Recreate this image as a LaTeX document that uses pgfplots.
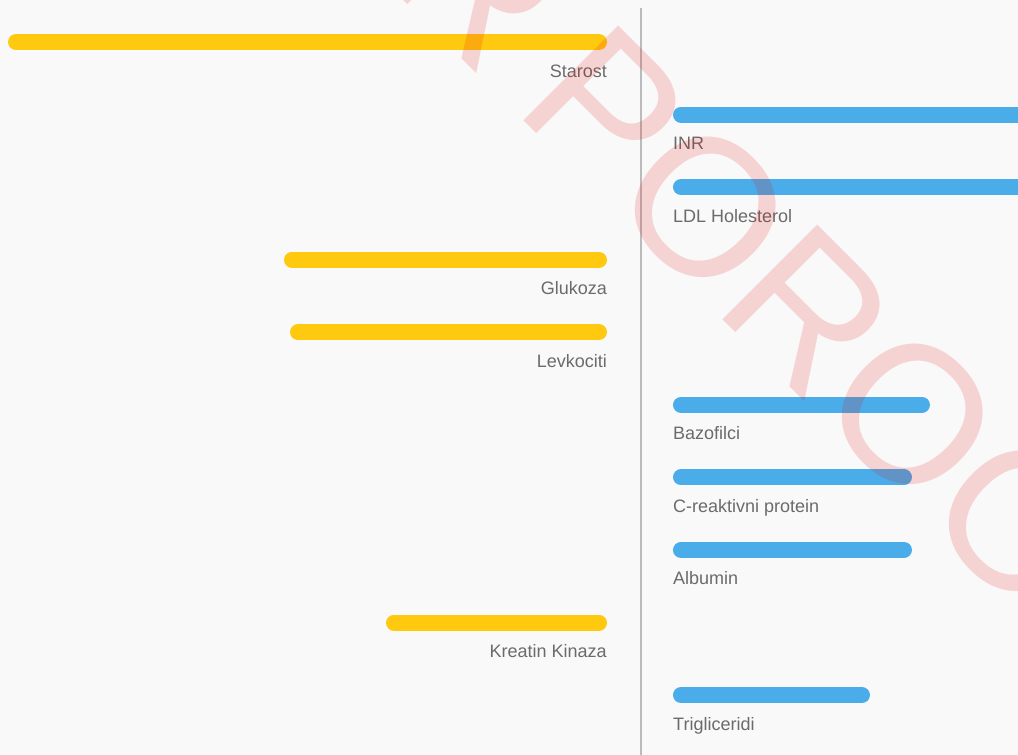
\documentclass[border=0pt]{standalone}
\usepackage{pgfplots}
\pgfplotsset{compat=1.18}
\usepackage{fontspec}
\setmainfont{Liberation Sans}
\definecolor{bgc}{HTML}{F9F9F9}
\definecolor{yel}{HTML}{FFC910}
\definecolor{blu}{HTML}{4AADEA}
\definecolor{lbl}{HTML}{6B6B6B}
\definecolor{axl}{HTML}{BBBBBB}
\definecolor{wmc}{HTML}{E60000}
\tikzset{lab/.style={font=\fontsize{18bp}{21bp}\selectfont, text=lbl, inner sep=0pt, yshift=-35bp}}
\begin{document}
\begin{tikzpicture}
\fill[bgc] (0,0) rectangle (1018bp,755bp);
\begin{axis}[
  at={(0,0)}, anchor=south west,
  width=1018bp, height=755bp, scale only axis,
  xmin=-641, xmax=377, ymin=-0.579, ymax=9.826, y dir=reverse,
  axis lines=none, xtick=\empty, ytick=\empty,
  clip=true,
  every axis plot/.append style={line width=16bp, line cap=round, mark=none},
]
\draw[axl, line width=1.6bp] (axis cs:0,-0.4686) -- (axis cs:0,10);
% yellow (negative side)
\addplot[yel] coordinates {(-42,0) (-625,0)};
\addplot[yel] coordinates {(-42,3) (-349,3)};
\addplot[yel] coordinates {(-42,4) (-343,4)};
\addplot[yel] coordinates {(-42,8) (-247,8)};
% blue (positive side)
\addplot[blu] coordinates {(40,1) (500,1)};
\addplot[blu] coordinates {(40,2) (500,2)};
\addplot[blu] coordinates {(40,5) (281,5)};
\addplot[blu] coordinates {(40,6) (263,6)};
\addplot[blu] coordinates {(40,7) (263,7)};
\addplot[blu] coordinates {(40,9) (221,9)};
% labels
\node[lab, anchor=base east] at (axis cs:-34,0) {Starost};
\node[lab, anchor=base west] at (axis cs:32,1) {INR};
\node[lab, anchor=base west] at (axis cs:32,2) {LDL Holesterol};
\node[lab, anchor=base east] at (axis cs:-34,3) {Glukoza};
\node[lab, anchor=base east] at (axis cs:-34,4) {Levkociti};
\node[lab, anchor=base west] at (axis cs:32,5) {Bazofilci};
\node[lab, anchor=base west] at (axis cs:32,6) {C-reaktivni protein};
\node[lab, anchor=base west] at (axis cs:32,7) {Albumin};
\node[lab, anchor=base east] at (axis cs:-34,8) {Kreatin Kinaza};
\node[lab, anchor=base west] at (axis cs:32,9) {Trigliceridi};
\end{axis}
\begin{scope}
\clip (0,0) rectangle (1018bp,755bp);
\node[rotate=-45, anchor=base west, inner sep=0pt, text=wmc, opacity=0.15,
  font=\fontsize{195bp}{195bp}\selectfont] at (383.6bp,774.4bp) {R\kern41bp POROO};
\end{scope}
\pgfresetboundingbox
\useasboundingbox (0,0) rectangle (1018bp,755bp);
\end{tikzpicture}
\end{document}
